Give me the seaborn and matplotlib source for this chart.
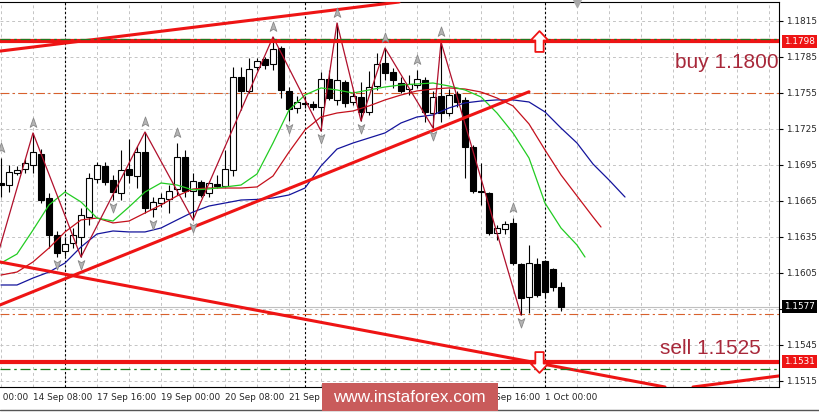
import matplotlib
matplotlib.use("Agg")
import matplotlib.pyplot as plt
import matplotlib.transforms as mtransforms
from matplotlib.path import Path
from matplotlib.patches import Rectangle
from matplotlib.lines import Line2D
import numpy as np
import pandas as pd
import seaborn as sns

# EURUSD H4, bars 0..70 (13 Sep 16:00 .. 1 Oct 08:00)
opens = [1.16800, 1.16783, 1.16883, 1.16917, 1.16950, 1.17042, 1.16675, 1.16367, 1.16233, 1.16300,
         1.16350, 1.16517, 1.16833, 1.16942, 1.16825, 1.16717, 1.16917, 1.16858, 1.17058, 1.16583,
         1.16633, 1.16667, 1.16750, 1.17017, 1.16733, 1.16808, 1.16717, 1.16792, 1.16775, 1.16908,
         1.17683, 1.17567, 1.17767, 1.17833, 1.17792, 1.17925, 1.17567, 1.17425, 1.17467, 1.17458,
         1.17433, 1.17667, 1.17492, 1.17642, 1.17475, 1.17517, 1.17392, 1.17608, 1.17800, 1.17725,
         1.17633, 1.17583, 1.17617, 1.17658, 1.17383, 1.17525, 1.17383, 1.17542, 1.17492, 1.17100,
         1.16733, 1.16717, 1.16383, 1.16417, 1.16467, 1.16125, 1.15850, 1.16125, 1.16150, 1.16083,
         1.15933]
highs = [1.17008, 1.16950, 1.16942, 1.17000, 1.17217, 1.17083, 1.16717, 1.16400, 1.16350, 1.16425,
         1.16592, 1.16883, 1.16975, 1.16975, 1.16867, 1.17075, 1.17167, 1.17108, 1.17225, 1.16683,
         1.16717, 1.16783, 1.17133, 1.17075, 1.16883, 1.16825, 1.16817, 1.16867, 1.17075, 1.17767,
         1.17767, 1.17842, 1.17842, 1.17850, 1.18017, 1.17942, 1.17600, 1.17525, 1.17517, 1.17483,
         1.17725, 1.17742, 1.18133, 1.17658, 1.17575, 1.17642, 1.17733, 1.17883, 1.17925, 1.17758,
         1.17683, 1.17700, 1.17742, 1.17683, 1.17567, 1.17975, 1.17583, 1.17567, 1.17517, 1.17117,
         1.16967, 1.16725, 1.16450, 1.16483, 1.16508, 1.16133, 1.16283, 1.16175, 1.16158, 1.16092,
         1.15975]
lows = [1.16683, 1.16725, 1.16867, 1.16883, 1.16883, 1.16633, 1.16258, 1.16183, 1.16192, 1.16258,
        1.16183, 1.16450, 1.16800, 1.16783, 1.16658, 1.16658, 1.16800, 1.16758, 1.16550, 1.16517,
        1.16600, 1.16550, 1.16700, 1.16683, 1.16492, 1.16683, 1.16683, 1.16758, 1.16767, 1.16858,
        1.17408, 1.17550, 1.17742, 1.17750, 1.17742, 1.17508, 1.17317, 1.17383, 1.17425, 1.17408,
        1.17233, 1.17492, 1.17450, 1.17433, 1.17450, 1.17317, 1.17367, 1.17575, 1.17658, 1.17592,
        1.17550, 1.17533, 1.17592, 1.17308, 1.17258, 1.17308, 1.17358, 1.17433, 1.16842, 1.16717,
        1.16617, 1.16367, 1.16325, 1.16375, 1.16117, 1.15700, 1.15717, 1.15850, 1.15842, 1.15900,
        1.15733]
closes = [1.16783, 1.16892, 1.16908, 1.16967, 1.17058, 1.16658, 1.16367, 1.16217, 1.16292, 1.16367,
          1.16533, 1.16842, 1.16950, 1.16808, 1.16725, 1.16908, 1.16867, 1.17058, 1.16592, 1.16642,
          1.16675, 1.16733, 1.17017, 1.16733, 1.16817, 1.16700, 1.16800, 1.16775, 1.16917, 1.17683,
          1.17567, 1.17750, 1.17817, 1.17783, 1.17917, 1.17575, 1.17417, 1.17475, 1.17458, 1.17433,
          1.17667, 1.17508, 1.17658, 1.17467, 1.17525, 1.17392, 1.17600, 1.17792, 1.17717, 1.17658,
          1.17567, 1.17625, 1.17667, 1.17392, 1.17517, 1.17383, 1.17533, 1.17475, 1.17100, 1.16733,
          1.16725, 1.16383, 1.16425, 1.16458, 1.16133, 1.15842, 1.16133, 1.15867, 1.15892, 1.15933,
          1.15770]

# Alligator (read every second bar, shifted lines run past the last bar)
jaw_bars = list(range(0, 79, 2))
jaw = [1.15950, 1.15950, 1.16008, 1.16058, 1.16133, 1.16267, 1.16375, 1.16400, 1.16392, 1.16392,
       1.16425, 1.16492, 1.16558, 1.16608, 1.16633, 1.16658, 1.16663, 1.16675, 1.16700, 1.16758,
       1.16942, 1.17083, 1.17133, 1.17175, 1.17217, 1.17300, 1.17350, 1.17367, 1.17425, 1.17467,
       1.17483, 1.17492, 1.17492, 1.17475, 1.17392, 1.17258, 1.17133, 1.16958, 1.16825, 1.16683]
teeth_bars = list(range(0, 75, 2)) + [75]
teeth = [1.16033, 1.16058, 1.16142, 1.16258, 1.16392, 1.16492, 1.16508, 1.16467, 1.16483, 1.16550,
         1.16617, 1.16692, 1.16750, 1.16758, 1.16758, 1.16758, 1.16767, 1.16858, 1.17058, 1.17242,
         1.17350, 1.17383, 1.17400, 1.17442, 1.17492, 1.17533, 1.17567, 1.17583, 1.17592, 1.17583,
         1.17558, 1.17508, 1.17442, 1.17292, 1.17075, 1.16867, 1.16692, 1.16517, 1.16433]
lips_bars = list(range(0, 73, 2)) + [73]
lips = [1.16133, 1.16208, 1.16408, 1.16617, 1.16725, 1.16642, 1.16508, 1.16483, 1.16600, 1.16725,
        1.16800, 1.16783, 1.16742, 1.16750, 1.16767, 1.16783, 1.16875, 1.17133, 1.17408, 1.17533,
        1.17592, 1.17575, 1.17550, 1.17575, 1.17600, 1.17617, 1.17625, 1.17633, 1.17608, 1.17575,
        1.17517, 1.17383, 1.17217, 1.17008, 1.16633, 1.16425, 1.16283, 1.16183]

# ZigZag and fractals
zz_bars = [-1, 4, 10, 18, 24, 34, 40, 42, 45, 48, 54, 55, 65]
zz = [1.16067, 1.17217, 1.16183, 1.17225, 1.16492, 1.18017, 1.17233, 1.18133, 1.17317,
      1.17925, 1.17258, 1.17975, 1.15700]
fr_up = [0, 4, 18, 22, 34, 42, 48, 52, 55, 64]
fr_down = [7, 10, 14, 19, 24, 36, 40, 45, 54, 65]

# levels and trend lines
buy_level, buy_target = 1.1798, 1.1800
sell_level, sell_target = 1.1531, 1.1525
pivot_levels = [1.1755, 1.1571]
last_price = 1.1577
channel_top = [(0, 1.1790), (50, 1.1831)]
support = [(-1, 1.1576), (66, 1.1756)]
falling = [(0, 1.1614), (83, 1.1510)]
low_rising = [(86.5, 1.1510), (97, 1.1519)]
signal_bar = 67.3

week_starts = [8, 38, 68]
label_bars = [4, 12, 20, 28, 36, 44, 52, 60, 68]
labels = ["14 Sep 08:00", "17 Sep 16:00", "19 Sep 00:00", "20 Sep 08:00", "21 Sep 16:00",
          "25 Sep 00:00", "26 Sep 08:00", "27 Sep 16:00", "1 Oct 00:00"]
yticks = [1.1515, 1.1545, 1.1575, 1.1605, 1.1635, 1.1665, 1.1695, 1.1725, 1.1755, 1.1785, 1.1815]

sns.set_style("white")
plt.rcParams['font.family'] = ['DejaVu Sans']

df = pd.DataFrame({'bar': np.arange(len(opens)), 'open': opens, 'high': highs,
                   'low': lows, 'close': closes})
df['up'] = df['close'] >= df['open']

fig = plt.figure(figsize=(8.2, 4.13), dpi=100)
ax = fig.add_axes([0, 26 / 413, 779 / 820, 385 / 413])
ax.set_xlim(-0.125, 97.25)
ax.set_ylim(1.1510, 1.18308)

GRID = '#c4c4c4'
for x in range(0, 97, 4):
    ax.axvline(x, color=GRID, lw=0.7, ls=(0, (3, 3)), zorder=0)
for y in yticks:
    ax.axhline(y, color=GRID, lw=0.7, ls=(0, (3, 3)), zorder=0)
for x in week_starts:
    ax.axvline(x, color='black', lw=0.8, ls=(0, (2, 2)), zorder=1)

# price levels
ax.axhline(last_price, color='#c0c0c0', lw=0.8, zorder=1)
for p in pivot_levels:
    ax.axhline(p, color='#d8602c', lw=0.8, ls=(0, (8, 3, 2, 3)), zorder=1)

# candles
ax.vlines(df['bar'], df['low'], df['high'], color='black', lw=0.8, zorder=2)
body_bottom = df[['open', 'close']].min(axis=1)
body_h = (df['close'] - df['open']).abs().clip(lower=0.00004)
ax.bar(df['bar'], body_h, bottom=body_bottom, width=0.68,
       color=np.where(df['up'], 'white', 'black'), edgecolor='black', linewidth=0.8, zorder=2.5)

# indicators
sns.lineplot(x=jaw_bars, y=jaw, ax=ax, color='#14149c', lw=0.9, zorder=3)
sns.lineplot(x=teeth_bars, y=teeth, ax=ax, color='#c4101c', lw=0.9, zorder=3)
sns.lineplot(x=lips_bars, y=lips, ax=ax, color='#22cc22', lw=0.9, zorder=3)
sns.lineplot(x=zz_bars, y=zz, ax=ax, color='#b0102c', lw=0.9, sort=False, zorder=3.2)

RED = '#ee1414'
ax.axhline(buy_level, color=RED, lw=3, zorder=4)
ax.axhline(sell_level, color=RED, lw=3, zorder=4)
ax.axhline(buy_target, color='#1f7a1f', lw=0.9, ls=(0, (8, 3, 2, 3)), zorder=4.1)
ax.axhline(sell_target, color='#1f7a1f', lw=0.9, ls=(0, (8, 3, 2, 3)), zorder=4.1)
ax.axline(*channel_top, color=RED, lw=2.2, zorder=4)
ax.axline(*falling, color=RED, lw=2.2, zorder=4)
ax.axline(*low_rising, color=RED, lw=2.2, zorder=4)
ax.plot([support[0][0], support[1][0]], [support[0][1], support[1][1]], color=RED, lw=2.2, zorder=4)

# fractal arrows
up_mark = Path([(0, 1), (0.6, -0.7), (0, -0.3), (-0.6, -0.7), (0, 1)],
               [Path.MOVETO, Path.LINETO, Path.LINETO, Path.LINETO, Path.CLOSEPOLY])
down_mark = Path([(0, -1), (0.6, 0.7), (0, 0.3), (-0.6, 0.7), (0, -1)],
                 [Path.MOVETO, Path.LINETO, Path.LINETO, Path.LINETO, Path.CLOSEPOLY])
ax.plot(fr_up, df.loc[fr_up, 'high'] + 0.0008, ls='none', marker=up_mark, ms=8,
        mfc='#b4b4b4', mec='#888888', mew=0.6, zorder=5)
ax.plot(fr_down, df.loc[fr_down, 'low'] - 0.0006, ls='none', marker=down_mark, ms=8,
        mfc='#b4b4b4', mec='#888888', mew=0.6, zorder=5)
ax.plot([72], [1.18300], ls='none', marker='v', ms=6, color='#a8a8a8', clip_on=False, zorder=5)

# buy / sell arrows
arrow_codes = [Path.MOVETO] + [Path.LINETO] * 6 + [Path.CLOSEPOLY]
buy_mark = Path([(0, 1), (0.85, 0.1), (0.4, 0.1), (0.4, -1), (-0.4, -1), (-0.4, 0.1), (-0.85, 0.1), (0, 1)],
                arrow_codes)
sell_mark = Path([(0, -1), (0.85, -0.1), (0.4, -0.1), (0.4, 1), (-0.4, 1), (-0.4, -0.1), (-0.85, -0.1), (0, -1)],
                 arrow_codes)
ax.plot([signal_bar], [buy_level], ls='none', marker=buy_mark, ms=15, mfc='white', mec=RED, mew=1.3, zorder=6)
ax.plot([signal_bar], [sell_level], ls='none', marker=sell_mark, ms=15, mfc='white', mec=RED, mew=1.3, zorder=6)

TXT = '#a8283a'
ax.text(97.2, 1.17808, "buy 1.1800", color=TXT, fontsize=15, family='Liberation Sans',
        ha='right', va='center', zorder=7)
ax.text(95.0, 1.15417, "sell 1.1525", color=TXT, fontsize=15, family='Liberation Sans',
        ha='right', va='center', zorder=7)

# axes
for s in ['top', 'right', 'bottom']:
    ax.spines[s].set_color('black')
    ax.spines[s].set_linewidth(0.8)
ax.spines['left'].set_visible(False)
ax.yaxis.tick_right()
# the 1.1575 label sits under the last-price tag
ax.set_yticks(yticks, ["" if abs(v - 1.1575) < 1e-6 else f"{v:.4f}" for v in yticks])
ax.set_xticks(label_bars, labels)
for lab in ax.get_xticklabels():
    lab.set_ha('left')
ax.tick_params(axis='both', direction='out', length=3, width=0.8, color='black', labelsize=6.4, pad=1.5)
ax.tick_params(axis='y', left=False, right=True, pad=2)
ax.set_xlabel('')
ax.set_ylabel('')

trans = mtransforms.offset_copy(mtransforms.blended_transform_factory(ax.transData, ax.transAxes),
                                fig=fig, y=-4.5, units='points')
ax.text(-4, 0, "13 Sep 00:00", transform=trans, ha='left', va='top', fontsize=6.4, clip_on=False)

# price tags on the scale
ytrans = mtransforms.blended_transform_factory(ax.transAxes, ax.transData)
for price, fc in [(buy_level, RED), (last_price, 'black'), (sell_level, RED)]:
    ax.text(1.006, price, f"{price:.4f}", transform=ytrans, ha='left', va='center', fontsize=6.4,
            color='white', clip_on=False, zorder=8,
            bbox=dict(boxstyle='square,pad=0.22', fc=fc, ec='none'))

# frame and watermark
fig.add_artist(Line2D([0, 1], [3 / 413, 3 / 413], color='#555555', lw=1))
fig.add_artist(Rectangle((322 / 820, 2 / 413), 176 / 820, 28 / 413, transform=fig.transFigure,
                         fc='#c95b5b', ec='none', zorder=10))
fig.text(409 / 820, 16 / 413, "www.instaforex.com", color='white', fontsize=12.3,
         family='Liberation Sans', ha='center', va='center', zorder=11)

fig.savefig("out.png", dpi=100)
